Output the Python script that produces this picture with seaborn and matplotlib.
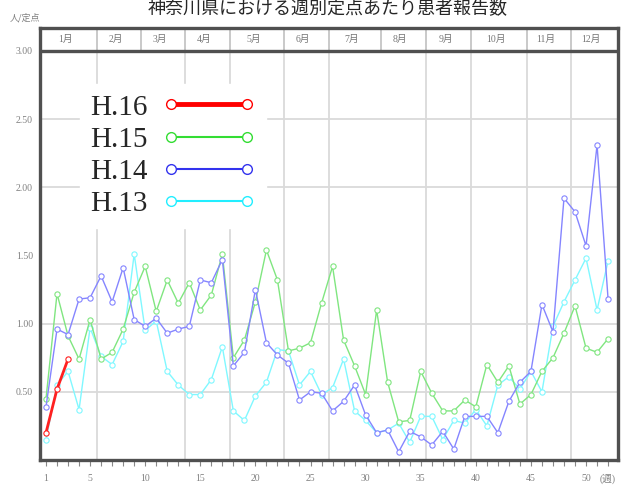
"""Weekly sentinel report chart: H.13 - H.16 per-sentinel counts by week."""

import numpy as np
import pandas as pd
import matplotlib
matplotlib.use('Agg')
import matplotlib.pyplot as plt
from matplotlib.lines import Line2D
import seaborn as sns

# weeks 1..52
weeks = list(range(1, 53))

h16 = [0.20, 0.52, 0.74]

h15 = [0.45, 1.22, 0.91, 0.74, 1.03, 0.74, 0.79, 0.96, 1.23, 1.42,
       1.09, 1.32, 1.15, 1.30, 1.10, 1.21, 1.51, 0.75, 0.88, 1.16,
       1.54, 1.32, 0.80, 0.82, 0.86, 1.15, 1.42, 0.88, 0.69, 0.48,
       1.10, 0.57, 0.28, 0.29, 0.65, 0.49, 0.36, 0.36, 0.44, 0.39,
       0.70, 0.57, 0.69, 0.41, 0.48, 0.65, 0.75, 0.93, 1.13, 0.82,
       0.79, 0.89]

h14 = [0.39, 0.96, 0.92, 1.18, 1.19, 1.35, 1.16, 1.41, 1.03, 0.98,
       1.04, 0.93, 0.96, 0.98, 1.32, 1.30, 1.47, 0.69, 0.79, 1.25,
       0.86, 0.77, 0.71, 0.44, 0.50, 0.49, 0.36, 0.43, 0.55, 0.33,
       0.20, 0.22, 0.06, 0.21, 0.17, 0.11, 0.21, 0.08, 0.32, 0.32,
       0.32, 0.20, 0.43, 0.57, 0.65, 1.14, 0.94, 1.92, 1.82, 1.57,
       2.31, 1.18]

h13 = [0.15, 0.55, 0.65, 0.37, 0.97, 0.76, 0.70, 0.87, 1.51, 0.95,
       1.02, 0.65, 0.55, 0.48, 0.48, 0.59, 0.83, 0.36, 0.29, 0.47,
       0.57, 0.81, 0.80, 0.55, 0.65, 0.48, 0.53, 0.74, 0.36, 0.29,
       0.20, 0.22, 0.27, 0.13, 0.32, 0.32, 0.15, 0.29, 0.27, 0.37,
       0.25, 0.55, 0.61, 0.52, 0.65, 0.50, 0.98, 1.16, 1.32, 1.48,
       1.10, 1.46]

series_names = ['H.16', 'H.15', 'H.14', 'H.13']
month_labels = ['1月', '2月', '3月', '4月', '5月', '6月',
                '7月', '8月', '9月', '10月', '11月', '12月']
# week position where each month (Feb..Dec) starts
month_starts = [5.6, 9.6, 13.6, 17.7, 22.6, 26.7, 31.4, 35.5, 39.6, 44.6, 48.6]
y_ticks = [0.5, 1.0, 1.5, 2.0, 2.5, 3.0]
x_label_weeks = [1, 5, 10, 15, 20, 25, 30, 35, 40, 45, 50]

sns.set_style('white')
plt.rcParams['font.family'] = ['Liberation Serif', 'Noto Sans CJK JP']

XMIN, XMAX = 0.455, 52.9
YTOP = 3.168

fig = plt.figure(figsize=(6.29, 4.87), dpi=100)
ax = fig.add_axes([40 / 629, 27 / 487, 578 / 629, 432 / 487])
ax.set_xlim(XMIN, XMAX)
ax.set_ylim(0, YTOP)

# grid (only some month boundaries / levels are drawn in the original)
grid_months = [m for m in month_starts if m not in (9.6, 31.4)]
ax.vlines(grid_months, 0, 3.0, color='#dadada', lw=1.3, zorder=0)
ax.hlines([0.5, 1.0, 2.0, 2.5], XMIN, XMAX, color='#dadada', lw=1.3, zorder=0)

# month header band
ax.axhline(3.0, color='#505050', lw=2.4, zorder=3)
ax.vlines(month_starts, 3.0, YTOP, color='#c0c0c0', lw=1.2, zorder=2)
edges = [XMIN] + month_starts + [XMAX]
for i, lab in enumerate(month_labels):
    xc = (edges[i] + edges[i + 1]) / 2 - 0.3
    ax.text(xc, (3.0 + YTOP) / 2, lab, ha='center', va='center',
            fontsize=7, color='#777777')

plot_colors = {'H.16': '#ff2020', 'H.15': '#80e680', 'H.14': '#8585ff', 'H.13': '#80f8ff'}
legend_colors = {'H.16': '#ff0000', 'H.15': '#33dd33', 'H.14': '#3333ee', 'H.13': '#22eeff'}
data = {'H.16': h16, 'H.15': h15, 'H.14': h14, 'H.13': h13}

for name in ['H.13', 'H.15', 'H.14', 'H.16']:
    vals = data[name]
    df = pd.DataFrame({'week': weeks[:len(vals)], 'value': vals})
    c = plot_colors[name]
    sns.lineplot(data=df, x='week', y='value', ax=ax, color=c,
                 lw=2.0 if name == 'H.16' else 1.0,
                 marker='o', markersize=3.8, markerfacecolor='white',
                 markeredgecolor=c, markeredgewidth=0.8, legend=False, zorder=4)

for s in ax.spines.values():
    s.set_color('#505050')
    s.set_linewidth(2.4)
    s.set_visible(True)

ax.set_xlabel('')
ax.set_ylabel('')
ax.set_xticks(weeks)
ax.set_xticklabels([str(w) if w in x_label_weeks else ('(週)' if w == 52 else '')
                    for w in weeks])
ax.tick_params(axis='x', direction='out', length=4, width=0.8, color='#888888',
               labelsize=7, labelcolor='#808080', pad=6, bottom=True)
ax.set_yticks(y_ticks)
ax.set_yticklabels([f'{v:.2f}' for v in y_ticks])
ax.tick_params(axis='y', length=0, labelsize=7, labelcolor='#808080', pad=5)

fig.text(10 / 629, 1 - 18 / 487, '人/定点', fontsize=6.5, color='#808080',
         ha='left', va='center', family=['Noto Sans CJK JP'])
fig.text(328 / 629, 1 - 9 / 487, '神奈川県における週別定点あたり患者報告数',
         fontsize=13, ha='center', va='center', family=['Noto Sans CJK JP'])

handles = [Line2D([0], [0], color=legend_colors[n], lw=3.5 if n == 'H.16' else 1.5,
                  marker='o', markersize=7, markerfacecolor='white',
                  markeredgecolor=legend_colors[n], markeredgewidth=1.0)
           for n in series_names]
leg = ax.legend(handles, series_names, loc='upper left',
                bbox_to_anchor=(80 / 629, 1 - 84 / 487), bbox_transform=fig.transFigure,
                markerfirst=False, numpoints=2, handlelength=3.2, handletextpad=0.5,
                labelspacing=0.2, borderpad=0.35, borderaxespad=0, frameon=True,
                fancybox=False, facecolor='white', edgecolor='white', framealpha=1,
                prop={'family': 'Liberation Serif', 'size': 21})
leg.set_zorder(5)

fig.savefig('out.png', dpi=100)
